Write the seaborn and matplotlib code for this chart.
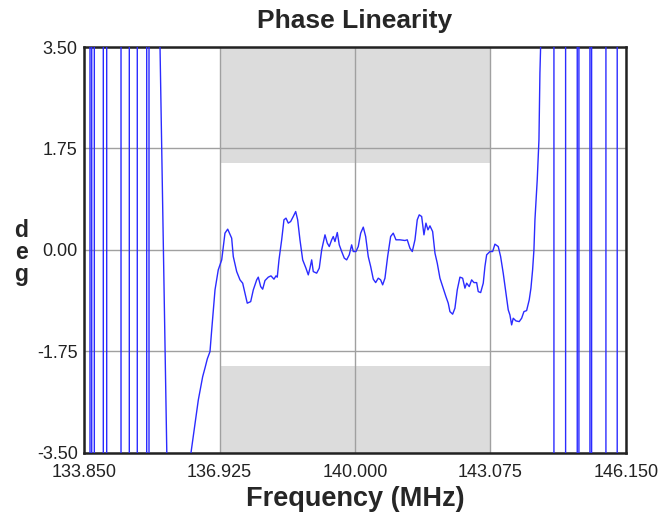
import numpy as np
import pandas as pd
import matplotlib

matplotlib.use('Agg')

import matplotlib.pyplot as plt
import seaborn as sns

sns.set_style("white")
plt.rcParams['font.family'] = ['Liberation Sans', 'DejaVu Sans']

# axis ticks
x_ticks = [133.850, 136.925, 140.000, 143.075, 146.150]
y_ticks = [-3.50, -1.75, 0.00, 1.75, 3.50]

# mask limits (shaded regions)
mask_f = [136.925, 143.075]
mask_upper = 1.5
mask_lower = -2.0

# phase wraps outside the passband (MHz); y jumps from +4 to -4 off the chart
left_wraps = [133.986, 134.025, 134.084, 134.288, 134.365, 134.690,
              134.878, 135.059, 135.273, 135.325]
right_wraps = [144.515, 144.780, 145.044, 145.082, 145.332, 145.370,
               145.695, 145.951]

# passband phase deviation (MHz, deg)
band_f = [135.560, 135.575, 135.727, 135.740, 136.270,
          136.278, 136.444, 136.543, 136.596, 136.648, 136.709, 136.748,
          136.823, 136.897, 136.936, 136.975, 137.049, 137.111, 137.201,
          137.238, 137.315, 137.390, 137.451, 137.503, 137.555, 137.633,
          137.692, 137.769, 137.805, 137.860, 137.905, 137.957, 138.032,
          138.093, 138.161, 138.207, 138.236, 138.275, 138.336, 138.388,
          138.434, 138.486, 138.540, 138.599, 138.654, 138.699, 138.751,
          138.813, 138.887, 138.940, 138.978, 139.017, 139.053, 139.130,
          139.189, 139.244, 139.319, 139.371, 139.416, 139.471, 139.507,
          139.545, 139.598, 139.643, 139.698, 139.757, 139.811, 139.870,
          139.924, 139.961, 140.022, 140.074, 140.129, 140.188, 140.242,
          140.301, 140.356, 140.415, 140.469, 140.528, 140.582, 140.628,
          140.680, 140.741, 140.809, 140.868, 140.930, 141.020, 141.134,
          141.186, 141.247, 141.300, 141.361, 141.413, 141.458, 141.513,
          141.565, 141.610, 141.656, 141.701, 141.762, 141.815, 141.867,
          141.928, 141.989, 142.064, 142.116, 142.155, 142.216, 142.268,
          142.321, 142.382, 142.443, 142.495, 142.534, 142.593, 142.647,
          142.700, 142.761, 142.797, 142.852, 142.911, 142.949, 142.988,
          143.063, 143.124, 143.176, 143.251, 143.305, 143.364, 143.426,
          143.478, 143.516, 143.555, 143.591, 143.653, 143.727, 143.782,
          143.834, 143.895, 143.954, 143.993, 144.031, 144.061, 144.084,
          144.136, 144.175, 144.197, 144.213, 144.225]
band_deg = [4.0, 3.5, -3.5, -4.0, -4.0,
            -3.5, -2.591, -2.188, -2.038, -1.882, -1.756, -1.382,
            -0.691, -0.345, -0.259, -0.173, 0.288, 0.357, 0.202,
            -0.116, -0.375, -0.518, -0.575, -0.748, -0.920, -0.893,
            -0.691, -0.518, -0.471, -0.634, -0.679, -0.530, -0.471,
            -0.449, -0.506, -0.449, -0.471, -0.173, 0.173, 0.518,
            0.547, 0.461, 0.489, 0.575, 0.661, 0.518, 0.173,
            -0.173, -0.316, -0.432, -0.316, -0.173, -0.375, -0.402,
            -0.316, 0.000, 0.259, 0.116, 0.057, 0.173, 0.230,
            0.143, 0.299, 0.086, -0.029, -0.143, -0.173, -0.086,
            0.086, -0.029, -0.029, 0.057, 0.288, 0.392, 0.230,
            -0.116, -0.288, -0.506, -0.565, -0.489, -0.518, -0.604,
            -0.489, -0.116, 0.230, 0.288, 0.173, 0.173, 0.161,
            0.173, 0.029, -0.029, 0.173, 0.518, 0.604, 0.575,
            0.259, 0.461, 0.345, 0.414, 0.316, -0.057, -0.230,
            -0.489, -0.634, -0.807, -0.920, -1.066, -1.110, -1.007,
            -0.691, -0.471, -0.489, -0.661, -0.575, -0.634, -0.518,
            -0.565, -0.565, -0.720, -0.737, -0.575, -0.288, -0.086,
            -0.029, -0.029, 0.098, 0.057, -0.116, -0.402, -0.748,
            -1.036, -1.123, -1.295, -1.180, -1.226, -1.238, -1.180,
            -1.066, -1.048, -0.864, -0.661, -0.345, 0.000, 0.518,
            1.209, 1.900, 3.052, 3.511, 4.0]


def wrap_trace(start_f, start_y, wraps, end_f=None):
    # vertical jumps of the wrapped phase, drawn as steps between +/-4
    fs, ys = [start_f], [start_y]
    y = start_y
    for f in wraps:
        fs += [f, f]
        ys += [y, -y]
        y = -y
    if end_f is not None:
        fs.append(end_f)
        ys.append(y)
    return fs, ys


lf, ly = wrap_trace(133.850, 4.0, left_wraps)
rf, ry = wrap_trace(144.230, 4.0, right_wraps, 146.150)

df = pd.DataFrame({'freq': lf + band_f + rf, 'deg': ly + band_deg + ry})

fig = plt.figure(figsize=(6.71, 5.16), dpi=100)
ax = fig.add_axes([0.1252, 0.1227, 0.8077, 0.7862])

ax.fill_between(mask_f, mask_upper, 3.5, color='#dcdcdc', lw=0, zorder=0)
ax.fill_between(mask_f, -3.5, mask_lower, color='#dcdcdc', lw=0, zorder=0)

sns.lineplot(data=df, x='freq', y='deg', sort=False, estimator=None,
             color='#2b2bff', lw=1.0, ax=ax, zorder=3)

ax.set_xlim(x_ticks[0], x_ticks[-1])
ax.set_ylim(y_ticks[0], y_ticks[-1])
ax.set_xticks(x_ticks)
ax.set_yticks(y_ticks)
ax.set_xticklabels([f"{v:.3f}" for v in x_ticks])
ax.set_yticklabels([f"{v:.2f}" for v in y_ticks])
ax.tick_params(length=0, labelsize=13, labelcolor='#222222')
ax.tick_params(axis='x', pad=8)
ax.tick_params(axis='y', pad=4.5)
ax.grid(True, color='#a0a0a0', lw=1.0, zorder=1)
ax.set_axisbelow(True)
for s in ax.spines.values():
    s.set_visible(True)
    s.set_color('#222222')
    s.set_linewidth(1.8)

ax.set_title("Phase Linearity", fontsize=19, fontweight='bold', pad=14)
ax.set_xlabel("Frequency (MHz)", fontsize=19.5, fontweight='bold', labelpad=4)
ax.set_ylabel("")
fig.text(0.032, 0.511, "d\ne\ng", fontsize=16.5, fontweight='bold',
         ha='center', va='center', linespacing=0.95)

fig.savefig("out.png", dpi=100)
